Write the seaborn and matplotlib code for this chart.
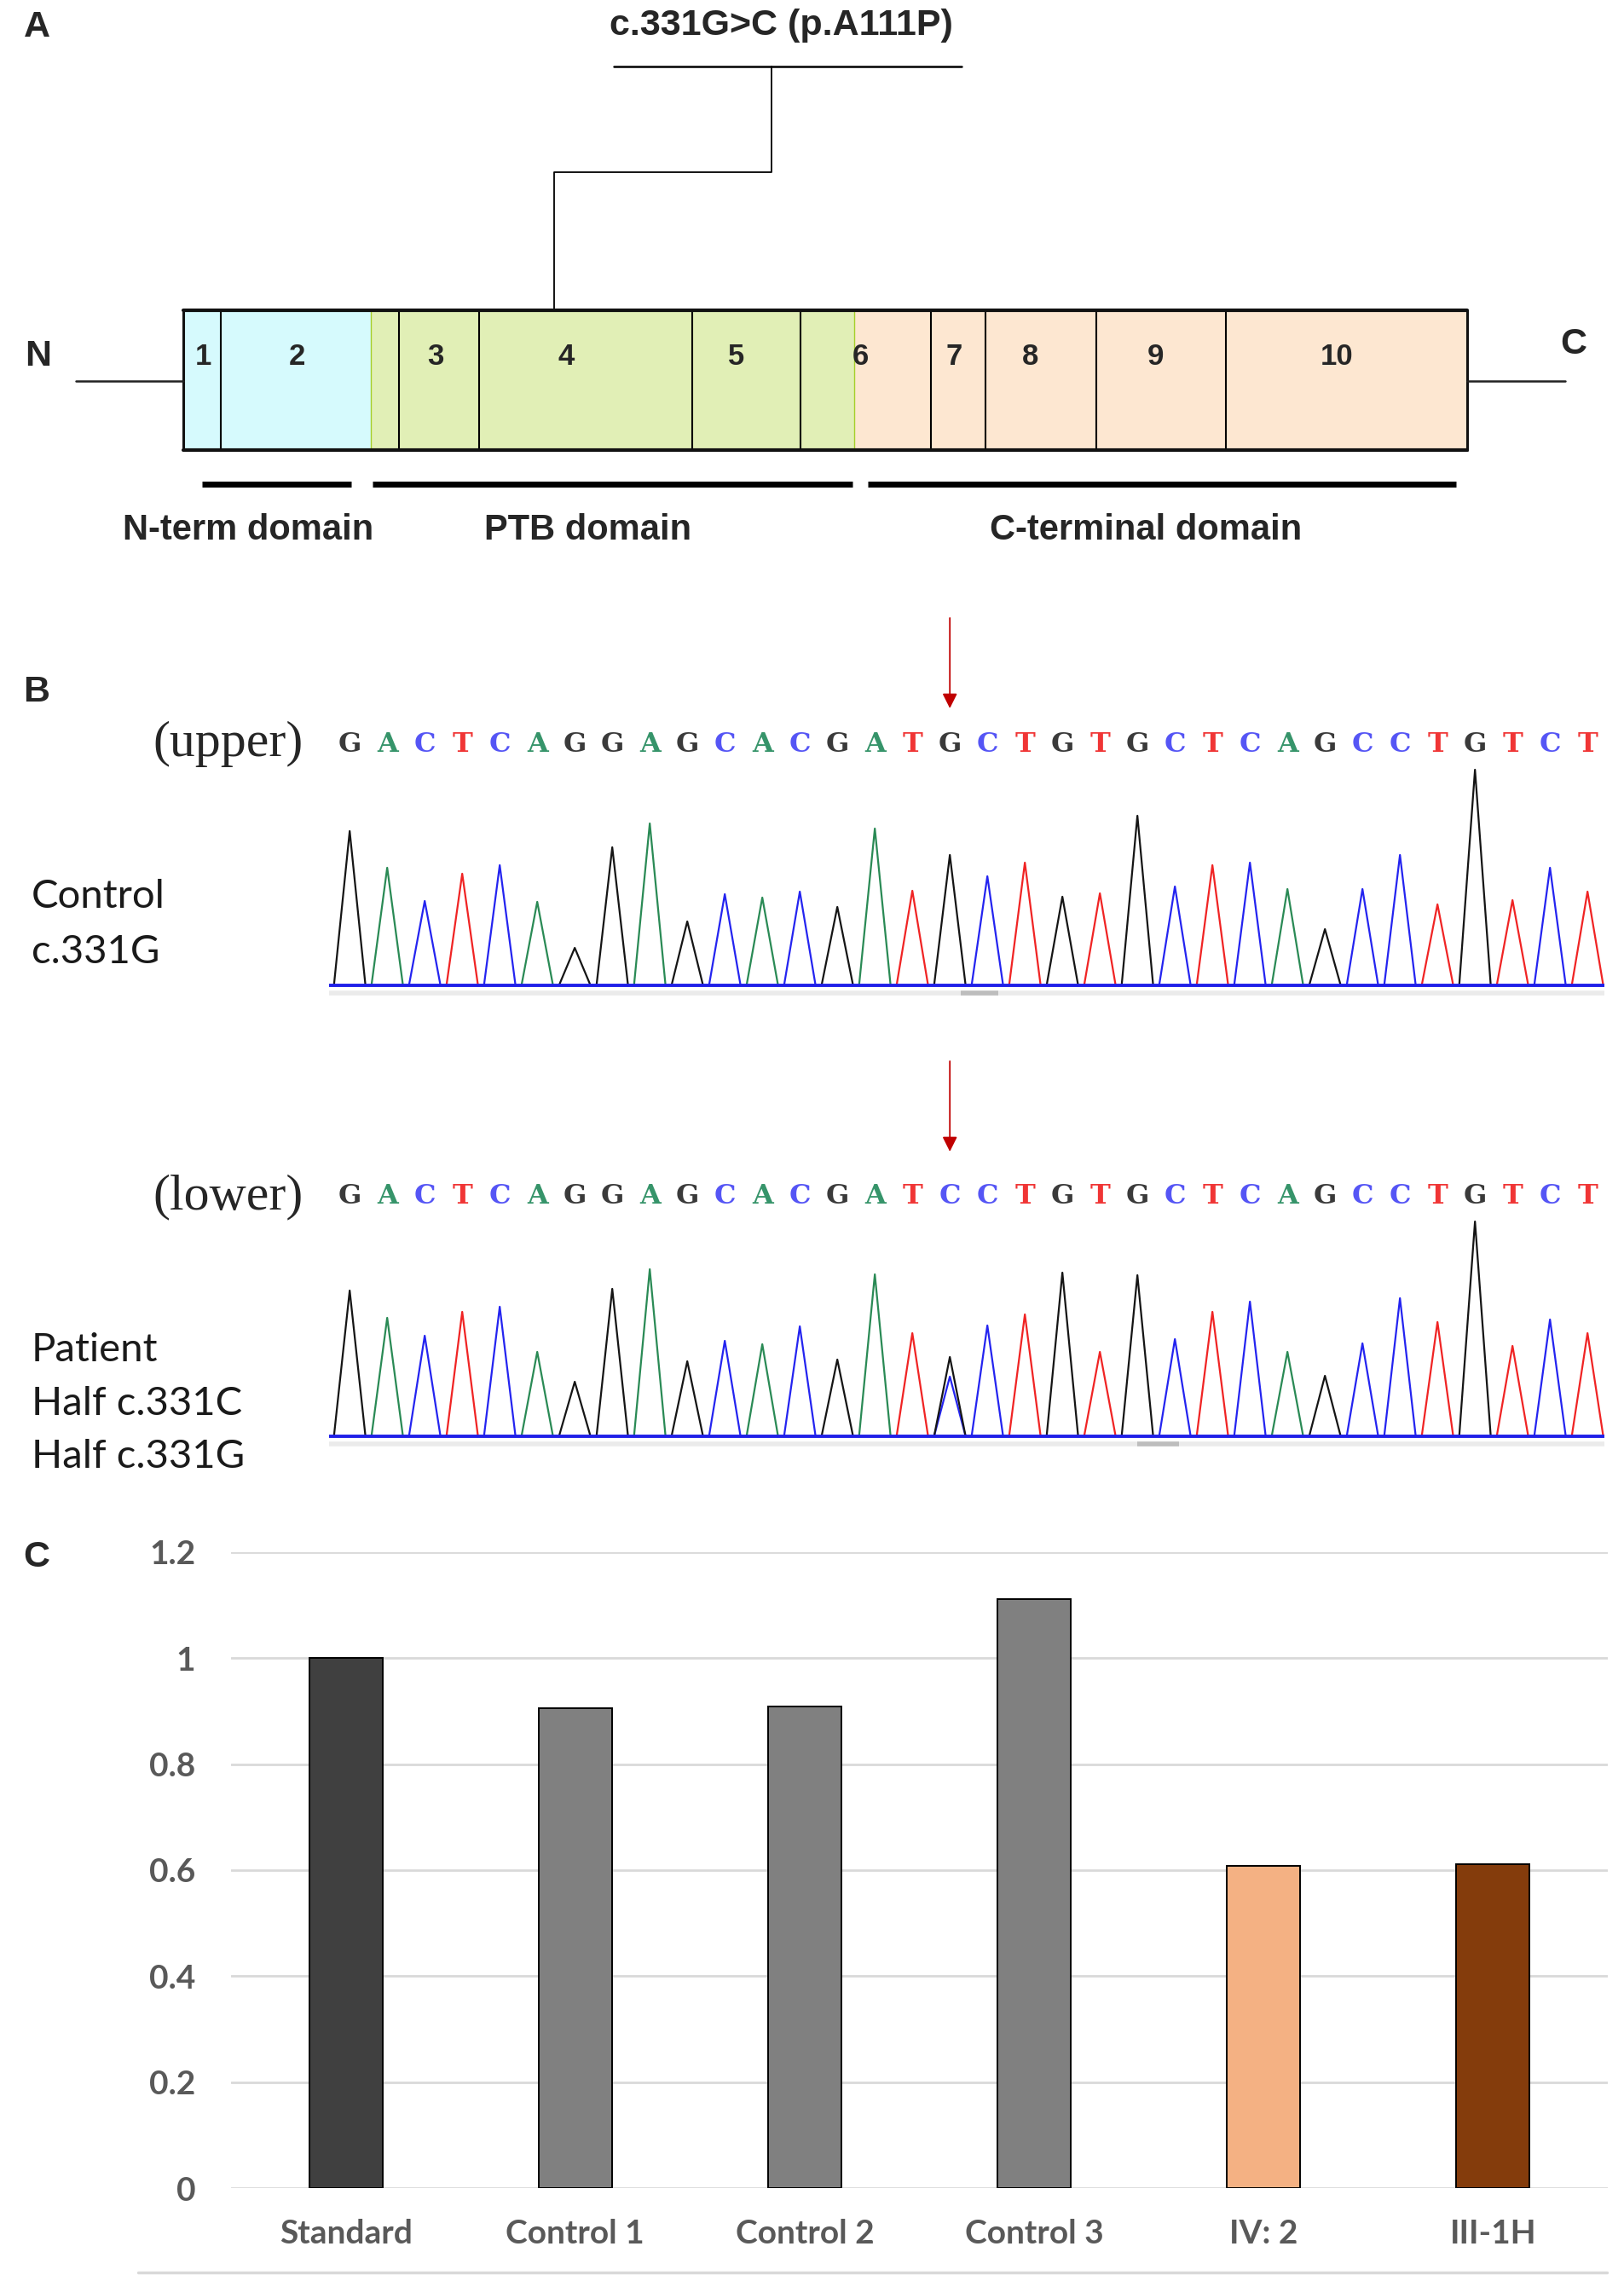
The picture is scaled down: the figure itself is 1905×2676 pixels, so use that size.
import matplotlib

matplotlib.use("Agg")
import matplotlib.pyplot as plt
import seaborn as sns

sns.set_theme(style="white")
plt.rcParams["font.family"] = ["Liberation Sans", "DejaVu Sans"]

# ---------------- data ----------------
# Panel A: protein diagram (schematic, pixel layout)
exon_edges = [215, 259, 435, 468, 562, 812, 939, 1002, 1092, 1156, 1286, 1438, 1721]
exon_domain = ["N", "N", "PTB", "PTB", "PTB", "PTB", "PTB", "C", "C", "C", "C", "C"]
exon_numbers = ["1", "2", "3", "4", "5", "6", "7", "8", "9", "10"]
exon_number_x = [238, 348, 511, 664, 864, 1009, 1119, 1209, 1355, 1568]
domain_names = ["N-term domain", "PTB domain", "C-terminal domain"]
domain_spans = [(237, 412), (437, 1000), (1018, 1708)]
domain_label_x = [291, 690, 1344]
mutation_label = "c.331G>C (p.A111P)"

# Panel B: Sanger traces (peak heights)
seq_upper = "GACTCAGGAGCACGATGCTGTGCTCAGCCTGTCT"
seq_lower = "GACTCAGGAGCACGATCCTGTGCTCAGCCTGTCT"
peaks_upper = [181, 138, 99, 131, 141, 98, 44, 162, 190, 75,
               107, 103, 110, 92, 184, 111, 153, 128, 144, 104,
               108, 199, 116, 141, 144, 113, 66, 113, 153, 95,
               253, 100, 138, 110]
peaks_lower = [171, 139, 118, 146, 152, 99, 64, 173, 196, 88,
               112, 108, 129, 90, 190, 121, 70, 130, 143, 192,
               99, 189, 114, 146, 158, 99, 71, 109, 162, 134,
               252, 106, 137, 121]
# second (heterozygous) peak in the patient trace
extra_lower = [(16, "G", 93)]
mutation_index = 16

# Panel C: relative expression
categories = ["Standard", "Control 1", "Control 2", "Control 3", "IV: 2", "III-1H"]
expression = [1.0, 0.905, 0.909, 1.112, 0.608, 0.611]
bar_colors = ["#404040", "#808080", "#808080", "#808080", "#F4B183", "#843C0C"]

# ---------------- styles ----------------
W, H = 1905, 2676
trace_colors = {"G": "#151515", "A": "#2A8A55", "C": "#2424F0", "T": "#F02424"}
letter_colors = {"G": "#3A3A3A", "A": "#36946A", "C": "#5555F5", "T": "#F03535"}
fill_colors = {"N": "#D6FAFD", "PTB": "#E1EFB6", "C": "#FDE7D1"}


def fig_rect(left, top, right, bottom):
    """pixel box -> figure fraction rect"""
    return [left / W, 1 - bottom / H, (right - left) / W, (bottom - top) / H]


fig = plt.figure(figsize=(W / 100, H / 100), dpi=100)
fig.patch.set_facecolor("white")

# full-figure canvas in pixel coordinates for panel A and labels
ax0 = fig.add_axes([0, 0, 1, 1])
ax0.set_xlim(0, W)
ax0.set_ylim(H, 0)
ax0.axis("off")

# ---------- Panel A ----------
ax0.text(43, 32, "A", fontsize=31, fontweight="bold", ha="center", va="center")
ax0.text(916, 30, mutation_label, fontsize=31, fontweight="bold", ha="center", va="center")
ax0.plot([720, 1128], [78, 78], color="black", lw=1.8)
ax0.plot([905, 905, 650, 650], [78, 202, 202, 364], color="black", lw=1.3)

box_top, box_bot = 364, 528
for i, dom in enumerate(exon_domain):
    ax0.fill_between([exon_edges[i], exon_edges[i + 1]], box_top, box_bot,
                     color=fill_colors[dom], lw=0)
for i in range(1, len(exon_edges) - 1):
    changes = exon_domain[i] != exon_domain[i - 1]
    ax0.plot([exon_edges[i]] * 2, [box_top, box_bot],
             color="#A5CF2A" if changes else "black", lw=1.0 if changes else 1.5)
ax0.plot([exon_edges[0], exon_edges[-1]], [box_top, box_top], color="#111111", lw=3)
ax0.plot([exon_edges[0], exon_edges[-1]], [box_bot, box_bot], color="#111111", lw=3)
ax0.plot([exon_edges[0]] * 2, [box_top, box_bot], color="#111111", lw=2.2)
ax0.plot([exon_edges[-1]] * 2, [box_top, box_bot], color="#111111", lw=2.2)
for num, x in zip(exon_numbers, exon_number_x):
    ax0.text(x, 418, num, fontsize=25, fontweight="bold", ha="center", va="center")

ax0.plot([89, exon_edges[0]], [447, 447], color="#222222", lw=1.8)
ax0.plot([exon_edges[-1], 1836], [447, 447], color="#222222", lw=1.8)
ax0.text(45, 418, "N", fontsize=31, fontweight="bold", ha="center", va="center")
ax0.text(1846, 404, "C", fontsize=31, fontweight="bold", ha="center", va="center")

for name, (x1, x2), lx in zip(domain_names, domain_spans, domain_label_x):
    ax0.plot([x1, x2], [568, 568], color="black", lw=5, solid_capstyle="butt")
    ax0.text(lx, 622, name, fontsize=30, fontweight="bold", ha="center", va="center")

# ---------- Panel B ----------
ax0.text(43, 812, "B", fontsize=31, fontweight="bold", ha="center", va="center")
ax0.text(268, 873, "(upper)", fontsize=43, family=["Liberation Serif"],
         ha="center", va="center")
ax0.text(268, 1404, "(lower)", fontsize=43, family=["Liberation Serif"],
         ha="center", va="center")
for txt, y in [("Control", 1052), ("c.331G", 1117),
               ("Patient", 1584), ("Half c.331C", 1647), ("Half c.331G", 1709)]:
    ax0.text(37, y, txt, fontsize=34, family=["Lato", "DejaVu Sans"],
             color="#1a1a1a", ha="left", va="center")


def draw_trace(ax, seq, heights, extras, letter_y, arrow_top, arrow_tip, thumb):
    hw = 0.42
    n = len(seq)
    ax.set_xlim(-0.55, n - 0.55)
    # light scroll strip under the baseline
    ax.plot([-0.55, n - 0.55], [-9, -9], color="#EBEBEB", lw=4, solid_capstyle="butt")
    ax.plot(thumb, [-9, -9], color="#BDBDBD", lw=4, solid_capstyle="butt")
    for i, (b, h) in enumerate(zip(seq, heights)):
        ax.plot([i - hw, i, i + hw], [0, h, 0], color=trace_colors[b], lw=1.6)
    for i, b, h in extras:
        ax.plot([i - hw, i, i + hw], [0, h, 0], color=trace_colors[b], lw=1.6)
    ax.plot([-0.55, n - 0.55], [0, 0], color="#2020E8", lw=2.8)
    for i, b in enumerate(seq):
        ax.text(i, letter_y, b, fontsize=23, family=["DejaVu Serif"], fontweight="bold",
                color=letter_colors[b], ha="center", va="center")
    ax.annotate("", xy=(mutation_index, arrow_tip), xytext=(mutation_index, arrow_top),
                arrowprops=dict(arrowstyle="-|>", color="#C00000", lw=1.3,
                                mutation_scale=26, shrinkA=0, shrinkB=0))
    ax.axis("off")


ax1 = fig.add_axes(fig_rect(386, 711, 1882, 1171))
ax1.set_ylim(-15, 445)
draw_trace(ax1, seq_upper, peaks_upper, [], 283, 431, 325, [16.3, 17.3])

ax2 = fig.add_axes(fig_rect(386, 1230, 1882, 1700))
ax2.set_ylim(-15, 455)
draw_trace(ax2, seq_lower, peaks_lower, extra_lower, 281, 440, 334, [21.0, 22.1])

# ---------- Panel C ----------
ax0.text(43, 1827, "C", fontsize=31, fontweight="bold", ha="center", va="center")
ax0.plot([162, 1885], [2666, 2666], color="#D9D9D9", lw=2.5)

ax3 = fig.add_axes(fig_rect(271, 1821, 1886, 2567))
ax3.set_facecolor("none")
sns.barplot(x=categories, y=expression, hue=categories, palette=bar_colors,
            saturation=1, width=0.32, edgecolor="black", linewidth=1.4,
            legend=False, ax=ax3)
ax3.set_ylim(0, 1.2)
ax3.set_xlim(-0.5, len(categories) - 0.5)
yt = [0, 0.2, 0.4, 0.6, 0.8, 1.0, 1.2]
ax3.set_yticks(yt)
ax3.set_yticklabels(["0", "0.2", "0.4", "0.6", "0.8", "1", "1.2"])
ax3.yaxis.grid(True, color="#D9D9D9", lw=2)
ax3.set_axisbelow(True)
for s in ax3.spines.values():
    s.set_visible(False)
ax3.tick_params(axis="y", length=0, pad=30, labelsize=28, labelcolor="#595959")
ax3.tick_params(axis="x", length=0, pad=26, labelsize=28, labelcolor="#595959")
for lab in ax3.get_xticklabels() + ax3.get_yticklabels():
    lab.set_fontweight("bold")
    lab.set_family(["Lato", "DejaVu Sans"])
ax3.set_xlabel("")
ax3.set_ylabel("")

fig.savefig("out.png", dpi=100)
